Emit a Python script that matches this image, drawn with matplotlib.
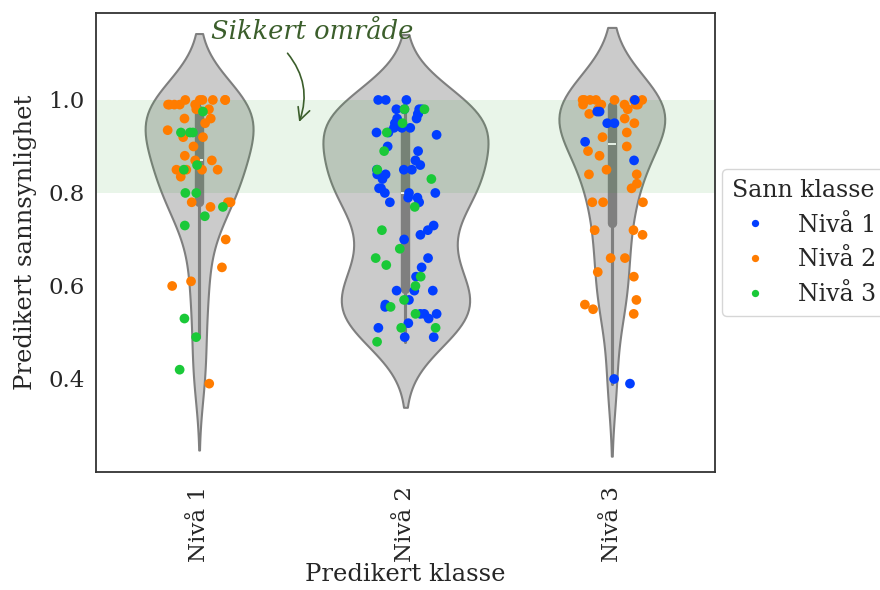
import numpy as np
import pandas as pd
import matplotlib
matplotlib.use("Agg")
import matplotlib.pyplot as plt
import seaborn as sns

classes = ["Nivå 1", "Nivå 2", "Nivå 3"]

# predicted class "Nivå 1"
pred1_true2 = [1.0, 1.0, 1.0, 1.0, 1.0, 1.0, 0.99, 0.99, 0.99, 0.99, 0.99,
               0.98, 0.98, 0.96, 0.96, 0.95, 0.935, 0.92, 0.92, 0.90, 0.88,
               0.87, 0.87, 0.85, 0.85, 0.85, 0.85, 0.835, 0.78, 0.78, 0.78,
               0.77, 0.70, 0.64, 0.61, 0.60, 0.39]
pred1_true3 = [0.975, 0.93, 0.93, 0.93, 0.86, 0.85, 0.80, 0.80, 0.77, 0.75,
               0.73, 0.53, 0.49, 0.42]

# predicted class "Nivå 2"
pred2_true1 = [1.0, 1.0, 1.0, 0.98, 0.98, 0.98, 0.98, 0.97, 0.97, 0.96, 0.96,
               0.95, 0.94, 0.94, 0.94, 0.93, 0.93, 0.925, 0.90, 0.89, 0.87,
               0.86, 0.85, 0.85, 0.85, 0.84, 0.84, 0.83, 0.81, 0.81, 0.80,
               0.80, 0.80, 0.79, 0.79, 0.78, 0.78, 0.73, 0.72, 0.71, 0.70,
               0.66, 0.64, 0.62, 0.59, 0.59, 0.59, 0.57, 0.56, 0.555, 0.54,
               0.54, 0.54, 0.53, 0.52, 0.51, 0.49, 0.49]
pred2_true3 = [0.98, 0.98, 0.95, 0.93, 0.89, 0.85, 0.83, 0.77, 0.72, 0.68,
               0.66, 0.645, 0.62, 0.60, 0.57, 0.555, 0.54, 0.51, 0.51, 0.48]

# predicted class "Nivå 3"
pred3_true2 = [1.0, 1.0, 1.0, 1.0, 1.0, 1.0, 1.0, 0.99, 0.99, 0.99, 0.99,
               0.99, 0.98, 0.98, 0.97, 0.96, 0.95, 0.93, 0.92, 0.90, 0.89,
               0.88, 0.85, 0.84, 0.84, 0.82, 0.81, 0.78, 0.78, 0.78, 0.72,
               0.72, 0.71, 0.66, 0.66, 0.63, 0.62, 0.57, 0.56, 0.55, 0.54]
pred3_true1 = [1.0, 0.975, 0.975, 0.95, 0.95, 0.91, 0.87, 0.40, 0.39]

rows = []
for pred, true, vals in [
    ("Nivå 1", "Nivå 2", pred1_true2), ("Nivå 1", "Nivå 3", pred1_true3),
    ("Nivå 2", "Nivå 1", pred2_true1), ("Nivå 2", "Nivå 3", pred2_true3),
    ("Nivå 3", "Nivå 2", pred3_true2), ("Nivå 3", "Nivå 1", pred3_true1),
]:
    for v in vals:
        rows.append({"pred": pred, "true": true, "prob": v})
df = pd.DataFrame(rows)

sns.set_style("white")
plt.rcParams["font.family"] = ["DejaVu Serif"]
plt.rcParams["font.size"] = 17

fig = plt.figure(figsize=(8.8, 5.9), dpi=100)
ax = fig.add_axes([0.109, 0.2, 0.7035, 0.778])

sns.violinplot(data=df, x="pred", y="prob", order=classes, color="#cbcbcb",
               linecolor="#7f7f7f", linewidth=1.5, density_norm="count",
               inner="box", ax=ax, zorder=1)

ax.axhspan(0.8, 1.0, color="#2ca02c", alpha=0.1, lw=0, zorder=2)

np.random.seed(3)
sns.stripplot(data=df, x="pred", y="prob", order=classes, hue="true",
              hue_order=classes, palette="bright", jitter=0.16, size=7,
              ax=ax, zorder=3)

ax.set_xlim(-0.5, 2.5)
ax.set_ylim(0.2, 1.187)
ax.set_yticks([0.4, 0.6, 0.8, 1.0])
ax.set_xticks(range(3))
ax.set_xticklabels(classes, rotation=90)
ax.set_xlabel("Predikert klasse", fontsize=17.5, color="#262626", labelpad=1)
ax.set_ylabel("Predikert sannsynlighet", fontsize=17.5, color="#262626",
              labelpad=8)
ax.tick_params(labelsize=16.5, colors="#262626", length=0)
ax.tick_params(axis="x", pad=10)
ax.tick_params(axis="y", pad=8)
for s in ax.spines.values():
    s.set_edgecolor("#333333")
    s.set_linewidth(1.3)

ax.text(0.55, 1.148, "Sikkert område", style="italic", fontsize=18.5,
        color="#3b5e2b", ha="center", va="center")
ax.annotate("", xy=(0.48, 0.947), xytext=(0.42, 1.105),
            arrowprops=dict(arrowstyle="->", color="#3b5e2b", lw=1.2,
                            connectionstyle="arc3,rad=-0.3",
                            mutation_scale=22))

ax.legend(title="Sann klasse", loc="center left", bbox_to_anchor=(1.0, 0.5),
          borderaxespad=0.3, fontsize=17, title_fontsize=17, markerscale=0.75)

fig.savefig("out.png", dpi=100)
